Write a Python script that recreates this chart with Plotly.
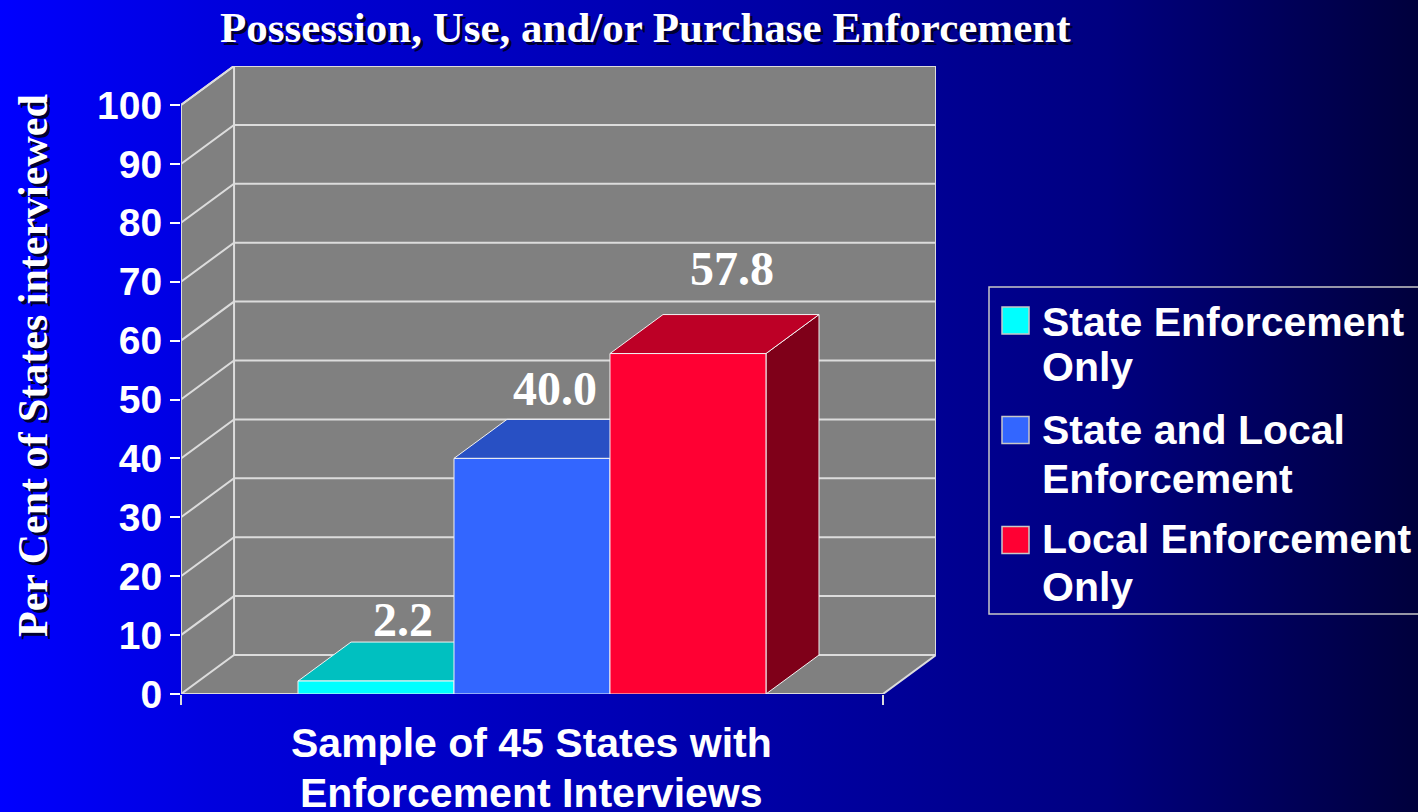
import base64
import plotly.graph_objects as go

# ---------------- data ----------------
categories = ["State Enforcement<br>Only", "State and Local<br>Enforcement", "Local Enforcement<br>Only"]
values = [2.2, 40.0, 57.8]
value_labels = ["2.2", "40.0", "57.8"]
y_ticks = [0, 10, 20, 30, 40, 50, 60, 70, 80, 90, 100]
y_tick_labels = ["0", "10", "20", "30", "40", "50", "60", "70", "80", "90", "100"]
title_text = "Possession, Use, and/or Purchase Enforcement"
y_title_text = "Per Cent of States interviewed"
x_title_lines = ["Sample of 45 States with", "Enforcement Interviews"]

# ---------------- style ----------------
front_colors = ["#00FFFF", "#3366FF", "#FF0033"]
top_colors = ["#00C0C0", "#2850C4", "#BD0026"]
side_colors = ["#008080", "#1A3380", "#7F0019"]
WALL = "#808080"
GRID = "#DCDCDC"
EDGE = "#F2F2F2"

W, H = 1418, 812
ML, MR, MT, MB = 181, W - 936, 66, H - 694
PW, PH = W - ML - MR, H - MT - MB

X_FRONT = 4.5      # front floor length (bar widths)
DX, DY = 0.34, 6.62  # depth offset in axis units
BAR_START = 0.75
X_MAX = X_FRONT + DX
Y_MAX = 100 + DY

label_dx = [0.17, 0.15, 0.28]
label_dy = [10.4, 11.8, 14.5]


def px(x):
    return (x - ML) / PW


def py(y):
    return (H - MB - y) / PH


fig = go.Figure()

# gray 3D walls
fig.add_trace(go.Scatter(
    x=[0, X_FRONT, X_MAX, X_MAX, DX, 0, 0],
    y=[0, 0, DY, Y_MAX, Y_MAX, 100, 0],
    fill="toself", fillcolor=WALL, mode="lines",
    line=dict(color=GRID, width=2), hoverinfo="skip", showlegend=False))

# gridlines (back wall horizontals + left wall diagonals) and back-left edge
gx, gy = [], []
for t in y_ticks:
    gx += [0, DX, X_MAX, None]
    gy += [t, t + DY, t + DY, None]
gx += [DX, DX, None]
gy += [DY, Y_MAX, None]
fig.add_trace(go.Scatter(x=gx, y=gy, mode="lines", line=dict(color=GRID, width=2),
                         hoverinfo="skip", showlegend=False))

# 3D bars
for i, v in enumerate(values):
    x0 = BAR_START + i
    x1 = x0 + 1
    # side face
    fig.add_trace(go.Scatter(
        x=[x1, x1 + DX, x1 + DX, x1, x1], y=[0, DY, v + DY, v, 0],
        fill="toself", fillcolor=side_colors[i], mode="lines",
        line=dict(color=EDGE, width=1), hoverinfo="skip", showlegend=False))
    # top face
    fig.add_trace(go.Scatter(
        x=[x0, x1, x1 + DX, x0 + DX, x0], y=[v, v, v + DY, v + DY, v],
        fill="toself", fillcolor=top_colors[i], mode="lines",
        line=dict(color=EDGE, width=1), hoverinfo="skip", showlegend=False))
    # front face
    fig.add_trace(go.Scatter(
        x=[x0, x1, x1, x0, x0], y=[0, 0, v, v, 0],
        fill="toself", fillcolor=front_colors[i], mode="lines",
        line=dict(color=EDGE, width=1), name=categories[i].replace("<br>", " "),
        hoverinfo="name+y", showlegend=False))

annotations = []
# value labels
for i, v in enumerate(values):
    annotations.append(dict(
        x=BAR_START + i + 0.5 + label_dx[i], y=v + label_dy[i], xref="x", yref="y",
        text="<b>%s</b>" % value_labels[i], showarrow=False,
        font=dict(family="Liberation Serif", size=48, color="white"),
        xanchor="center", yanchor="middle"))

# title with shadow
for dxs, dys, col in [(3, 3, "#000030"), (0, 0, "white")]:
    annotations.append(dict(
        x=px(645 + dxs), y=py(27 + dys), xref="paper", yref="paper",
        text="<b>%s</b>" % title_text, showarrow=False,
        font=dict(family="Liberation Serif", size=43, color=col),
        xanchor="center", yanchor="middle"))
    annotations.append(dict(
        x=px(33 + dxs), y=py(366 + dys), xref="paper", yref="paper",
        text="<b>%s</b>" % y_title_text, showarrow=False, textangle=-90,
        font=dict(family="Liberation Serif", size=42, color=col),
        xanchor="center", yanchor="middle"))

# x axis title
for k, (line, yc) in enumerate(zip(x_title_lines, [743, 793])):
    annotations.append(dict(
        x=X_FRONT / 2, y=py(yc), xref="x", yref="paper",
        text="<b>%s</b>" % line, showarrow=False,
        font=dict(family="Liberation Sans", size=41, color="white"),
        xanchor="center", yanchor="middle"))

# legend (manual, to match large square keys)
shapes = []
shapes.append(dict(type="rect", xref="paper", yref="paper",
                   x0=px(989), x1=px(1440), y0=py(614), y1=py(287),
                   line=dict(color="#C8C8C8", width=1.5), fillcolor="rgba(0,0,0,0)", layer="above"))
item_centers = [320.5, 430, 540]
line_centers = [[321.5, 366.5], [429.5, 478.5], [538.5, 586.5]]
for i, name in enumerate(categories):
    c = item_centers[i]
    shapes.append(dict(type="rect", xref="paper", yref="paper",
                       x0=px(1002), x1=px(1029), y0=py(c + 13.5), y1=py(c - 13.5),
                       line=dict(color="#C8C8C8", width=1.5), fillcolor=front_colors[i], layer="above"))
    for line, yc in zip(name.split("<br>"), line_centers[i]):
        annotations.append(dict(
            x=px(1040), y=py(yc), xref="paper", yref="paper",
            text="<b>%s</b>" % line, showarrow=False,
            font=dict(family="Liberation Sans", size=41, color="white"),
            xanchor="left", yanchor="middle"))

# gradient background
svg = ("<svg xmlns='http://www.w3.org/2000/svg' width='%d' height='%d' preserveAspectRatio='none'>"
       "<defs><linearGradient id='g' x1='0' y1='0' x2='1' y2='0'>"
       "<stop offset='0' stop-color='#0000FF'/>"
       "<stop offset='0.15' stop-color='#0000DE'/>"
       "<stop offset='0.63' stop-color='#000098'/>"
       "<stop offset='0.78' stop-color='#000080'/>"
       "<stop offset='1' stop-color='#00003C'/>"
       "</linearGradient></defs><rect width='%d' height='%d' fill='url(#g)'/></svg>") % (W, H, W, H)
src = "data:image/svg+xml;base64," + base64.b64encode(svg.encode()).decode()

fig.update_layout(
    width=W, height=H,
    margin=dict(l=ML, r=MR, t=MT, b=MB, pad=0),
    paper_bgcolor="#0000B0", plot_bgcolor="rgba(0,0,0,0)",
    showlegend=False,
    annotations=annotations, shapes=shapes,
    images=[dict(source=src, xref="paper", yref="paper",
                 x=-ML / PW, y=1 + MT / PH, sizex=W / PW, sizey=H / PH,
                 xanchor="left", yanchor="top", sizing="stretch", layer="below")],
    xaxis=dict(range=[0, X_MAX], showgrid=False, zeroline=False, showline=False,
               tickvals=[0, X_FRONT], ticks="outside", ticklen=10, tickwidth=2,
               tickcolor="#DCDCDC", showticklabels=False, fixedrange=True),
    yaxis=dict(range=[0, Y_MAX], showgrid=False, zeroline=False, showline=False,
               tickvals=y_ticks, ticktext=["<b>%s</b>" % t for t in y_tick_labels],
               ticks="outside", ticklen=10, tickwidth=2, tickcolor="white",
               tickfont=dict(family="Liberation Sans", size=39, color="white"),
               fixedrange=True),
)

fig.write_html("out.html", config={"displayModeBar": False},
               post_script="document.body.style.margin='0px';document.body.style.overflow='hidden';")
